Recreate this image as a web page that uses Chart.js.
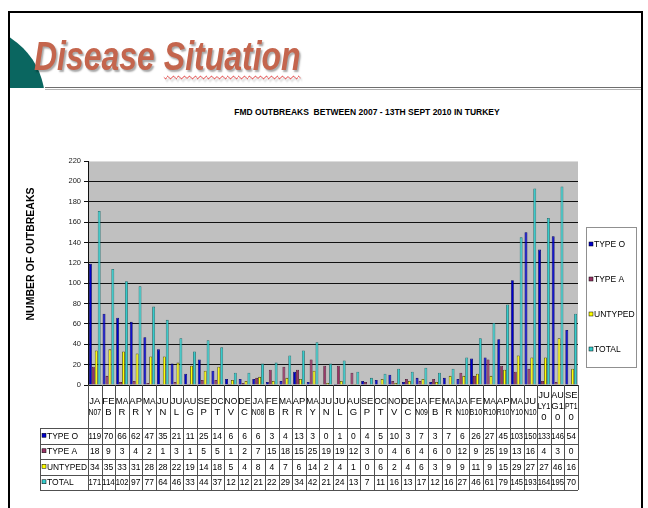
<!DOCTYPE html>
<html>
<head>
<meta charset="utf-8">
<script src="https://cdn.jsdelivr.net/npm/chart.js@4.4.1/dist/chart.umd.min.js"></script>
<style>
	html, body { margin: 0; padding: 0; background: #fff; }
	#page { position: relative; width: 648px; height: 508px; overflow: hidden; background: #fff; }
	#frame { position: absolute; left: 8px; top: 11px; width: 635px; height: 530px; border: 2px solid #000; box-sizing: border-box; }
	#arcClip { position: absolute; left: 10px; top: 13px; width: 40px; height: 75px; overflow: hidden; }
	#arc { position: absolute; left: -115px; top: 13px; width: 150px; height: 150px; border-radius: 50%; background: #0a6660; }
	#rule { position: absolute; left: 45px; top: 87px; width: 596px; height: 1px; border-top: 1px solid #6e6e6e; border-bottom: 1px solid #b4b4b4; }
	#heading { position: absolute; left: 34px; top: 36px; margin: 0; font: italic bold 41px/41px "Liberation Sans", Arial, sans-serif;
		color: #c4654d; text-shadow: 2px 2px 2px rgba(0,0,0,0.35); transform: scaleX(0.78); transform-origin: 0 0; white-space: nowrap; }
	#heading span { text-decoration: underline wavy #e03030; text-decoration-thickness: 1px; text-underline-offset: 5px; }
	#chartTitle { position: absolute; left: 0; top: 107px; width: 734px; text-align: center; font: bold 8.5px/10px "Liberation Sans", Arial, sans-serif; color: #000; white-space: pre; }
	#chart { position: absolute; left: 0; top: 0; }
</style>
</head>
<body>
<div id="page">
	<div id="frame"></div>
	<div id="arcClip"><div id="arc"></div></div>
	<div id="rule"></div>
	<h1 id="heading">Disease <span>Situation</span></h1>
	<div id="chartTitle">FMD OUTBREAKS  BETWEEN 2007 - 13TH SEPT 2010 IN TURKEY</div>
	<canvas id="chart" width="648" height="508"></canvas>
</div>
<script>
// month labels as they wrap inside the data table cells
const categories = [
	['JA','N07'],['FE','B'],['MA','R'],['AP','R'],['MA','Y'],['JU','N'],['JU','L'],['AU','G'],['SE','P'],['OC','T'],['NO','V'],['DE','C'],
	['JA','N08'],['FE','B'],['MA','R'],['AP','R'],['MA','Y'],['JU','N'],['JU','L'],['AU','G'],['SE','P'],['OC','T'],['NO','V'],['DE','C'],
	['JA','N09'],['FE','B'],['MA','R'],
	['JA','N10'],['FE','B10'],['MA','R10'],['AP','R10'],['MA','Y10'],['JU','N10'],['JU','LY1','0'],['AU','G1','0'],['SE','PT1','0']
];
const typeO   = [119,70,66,62,47,35,21,11,25,14,6,6, 6,3,4,13,3,0,1,0,4,5,10,3, 7,3,7, 6,26,27,45,103,150,133,146,54];
const typeA   = [18,9,3,4,2,1,3,1,5,5,1,2, 7,15,18,15,25,19,19,12,3,0,4,6, 4,6,0, 12,9,25,19,13,16,4,3,0];
const untyped = [34,35,33,31,28,28,22,19,14,18,5,4, 8,4,7,6,14,2,4,1,0,6,2,4, 6,3,9, 9,11,9,15,29,27,27,46,16];
const total   = [171,114,102,97,77,64,46,33,44,37,12,12, 21,22,29,34,42,21,24,13,7,11,16,13, 17,12,16, 27,46,61,79,145,193,164,195,70];
const seriesNames = ['TYPE O', 'TYPE A', 'UNTYPED', 'TOTAL'];
const yAxisTitle = 'NUMBER OF OUTBREAKS';
const yMax = 220;
const yStep = 20;

const FONT = '"Liberation Sans", Arial, sans-serif';
const fills = ['#0000cc', '#993366', '#ffff00', '#33cccc'];
const edges = ['#000066', '#4a1830', '#4d4d00', '#1f6f6f'];

// gray plot area, drawn before the grid
const plotBackground = {
	id: 'plotBackground',
	beforeDraw(chart) {
		const { ctx, chartArea: a } = chart;
		ctx.save();
		ctx.fillStyle = '#c0c0c0';
		ctx.fillRect(a.left, a.top, a.right - a.left, a.bottom - a.top);
		ctx.restore();
	},
};

// Excel style data table under the plot, legend box and the axis title
const dataTable = {
	id: 'dataTable',
	afterDraw(chart) {
		const { ctx, chartArea: a, scales: { x } } = chart;
		const n = chart.data.labels.length;
		const step = (a.right - a.left) / n;
		const tableLeft = 40;
		const headBottom = 428;
		const rowH = 15.5;
		const rows = chart.data.datasets;
		const tableBottom = headBottom + rowH * rows.length;

		ctx.save();
		ctx.strokeStyle = '#505050';
		ctx.lineWidth = 1;
		ctx.beginPath();
		// cell borders
		for (let i = 0; i <= n; i++) {
			const px = Math.round(x.getPixelForValue(i) - step / 2) + 0.5;
			ctx.moveTo(px, a.bottom);
			ctx.lineTo(px, tableBottom);
		}
		ctx.moveTo(tableLeft + 0.5, headBottom);
		ctx.lineTo(tableLeft + 0.5, tableBottom);
		for (let r = 0; r <= rows.length; r++) {
			const py = Math.round(headBottom + r * rowH) + 0.5;
			ctx.moveTo(tableLeft, py);
			ctx.lineTo(a.right, py);
		}
		ctx.stroke();

		// header labels
		ctx.fillStyle = '#000';
		ctx.textAlign = 'center';
		ctx.textBaseline = 'middle';
		ctx.font = `9.5px ${FONT}`;
		const headMid = (a.bottom + headBottom) / 2;
		chart.data.labels.forEach((lines, i) => {
			const cx = x.getPixelForValue(i);
			lines.forEach((t, k) => {
				const ly = headMid + (k - (lines.length - 1) / 2) * 11;
				ctx.fillText(t, cx, ly, step - 1);
			});
		});

		// values
		ctx.font = `8.5px ${FONT}`;
		rows.forEach((ds, r) => {
			const ly = headBottom + r * rowH + rowH / 2 + 0.5;
			ds.data.forEach((v, i) => {
				ctx.fillText(String(v), x.getPixelForValue(i), ly, step - 1);
			});
		});

		// row headers with colour keys
		ctx.textAlign = 'left';
		ctx.font = `8.5px ${FONT}`;
		rows.forEach((ds, r) => {
			const ly = headBottom + r * rowH + rowH / 2 + 0.5;
			ctx.fillStyle = ds.backgroundColor;
			ctx.fillRect(tableLeft + 2, ly - 3, 4, 4);
			ctx.strokeStyle = '#000';
			ctx.lineWidth = 0.5;
			ctx.strokeRect(tableLeft + 2, ly - 3, 4, 4);
			ctx.fillStyle = '#000';
			ctx.fillText(ds.label, tableLeft + 7, ly, a.left - tableLeft - 8);
		});

		// legend box
		const lx = 586, ly0 = 227, lw = 50, lh = 140;
		ctx.fillStyle = '#fff';
		ctx.fillRect(lx, ly0, lw, lh);
		ctx.strokeStyle = '#909090';
		ctx.lineWidth = 1;
		ctx.strokeRect(lx + 0.5, ly0 + 0.5, lw, lh);
		ctx.font = `8.5px ${FONT}`;
		rows.forEach((ds, r) => {
			const ey = 244 + r * 35;
			ctx.fillStyle = ds.backgroundColor;
			ctx.fillRect(lx + 3, ey - 2, 4, 4);
			ctx.strokeStyle = '#000';
			ctx.lineWidth = 0.5;
			ctx.strokeRect(lx + 3, ey - 2, 4, 4);
			ctx.fillStyle = '#000';
			ctx.fillText(ds.label, lx + 8, ey + 0.5, lw - 9);
		});

		// y axis title
		ctx.translate(31, 254);
		ctx.rotate(-Math.PI / 2);
		ctx.textAlign = 'center';
		ctx.font = `bold 10.5px ${FONT}`;
		ctx.fillText(yAxisTitle, 0, 0);
		ctx.restore();
	},
};

const seriesData = [typeO, typeA, untyped, total];

new Chart(document.getElementById('chart'), {
	type: 'bar',
	data: {
		labels: categories,
		datasets: seriesNames.map((name, i) => ({
			label: name,
			data: seriesData[i],
			backgroundColor: fills[i],
			borderColor: edges[i],
			borderWidth: 0.8,
			categoryPercentage: 0.86,
			barPercentage: 1,
		})),
	},
	options: {
		responsive: false,
		animation: false,
		devicePixelRatio: 1,
		layout: { padding: { left: 0, right: 70, top: 161, bottom: 123 } },
		plugins: {
			legend: { display: false },
			title: { display: false },
			tooltip: { enabled: false },
		},
		scales: {
			x: { display: false, offset: true },
			y: {
				min: 0,
				max: yMax,
				ticks: { stepSize: yStep, color: '#222', padding: 3, font: { family: FONT, size: 7.5 } },
				grid: {
					color: (c) => (c.tick && c.tick.value === yMax ? '#dcdcdc' : '#111'),
					tickColor: '#111',
					tickLength: 4,
				},
				border: { color: '#111' },
				afterFit(scale) { scale.width = 88; },
			},
		},
	},
	plugins: [plotBackground, dataTable],
});
</script>
</body>
</html>
